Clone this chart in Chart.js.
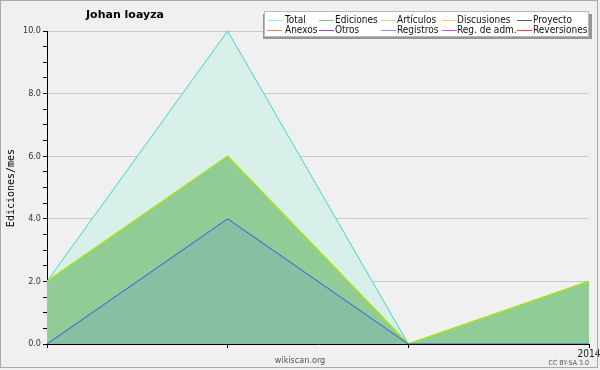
<!DOCTYPE html>
<html>
<head>
<meta charset="utf-8">
<script src="https://cdn.jsdelivr.net/npm/chart.js@4.4.1/dist/chart.umd.min.js"></script>
<style>
  html, body { margin: 0; padding: 0; background: #f0f0f0; }
  canvas { display: block; }
</style>
</head>
<body>
<canvas id="chart" width="600" height="370"></canvas>
<script>
// monthly points, only the January one carries a label
const months = ['2013-10', '2013-11', '2013-12', '2014-01'];
const xTickLabels = ['', '', '', '2014'];

const total = [2, 10, 0, 2];
const ediciones = [2, 6, 0, 2];
const articulos = [2, 6, 0, 2];
const registros = [0, 4, 0, 0];

const legendRow1 = ['Total', 'Ediciones', 'Artículos', 'Discusiones', 'Proyecto'];
const legendRow2 = ['Anexos', 'Otros', 'Registros', 'Reg. de adm.', 'Reversiones'];

const legendColors1 = ['#a0e8e4', '#80c888', '#c4ec70', '#f2d068', '#606060'];
const legendColors2 = ['#f08848', '#8848d8', '#8090f0', '#d058e0', '#e84040'];

const FONT = '"DejaVu Sans Condensed", "DejaVu Sans", sans-serif';

const decor = {
    id: 'decor',
    beforeDraw(chart) {
        const c = chart.ctx;
        c.save();
        c.fillStyle = '#f0f0f0';
        c.fillRect(0, 0, chart.width, chart.height);
        c.restore();
    },
    afterDraw(chart) {
        const c = chart.ctx;
        c.save();

        // frame
        c.strokeStyle = '#a8a8a8';
        c.lineWidth = 1;
        c.strokeRect(0.5, 0.5, 597, 367);

        // title
        c.fillStyle = '#000';
        c.font = 'bold 11px "DejaVu Sans", sans-serif';
        c.textBaseline = 'alphabetic';
        c.textAlign = 'left';
        c.fillText('Johan loayza', 86, 18);

        // legend box with its shadow
        c.fillStyle = '#959595';
        c.fillRect(263, 14, 329, 25);
        c.fillStyle = '#fff';
        c.fillRect(264, 11, 325, 26);
        c.strokeStyle = '#b8b8b8';
        c.strokeRect(264.5, 11.5, 324, 25);

        const lineX = [267, 319, 381, 442, 517];
        const textX = [285, 335, 397, 457, 533];
        c.font = '10px ' + FONT;
        c.lineWidth = 1;
        [[legendRow1, legendColors1, 20.5, 23], [legendRow2, legendColors2, 30.5, 33]].forEach(([names, cols, ly, ty]) => {
            names.forEach((n, i) => {
                c.strokeStyle = cols[i];
                c.beginPath();
                c.moveTo(lineX[i], ly);
                c.lineTo(lineX[i] + 15, ly);
                c.stroke();
                c.fillStyle = '#111';
                c.fillText(n, textX[i], ty);
            });
        });

        // y axis title
        c.save();
        c.translate(14, 188);
        c.rotate(-Math.PI / 2);
        c.textAlign = 'center';
        c.fillStyle = '#000';
        c.font = '10px "DejaVu Sans Mono", monospace';
        c.fillText('Ediciones/mes', 0, 0);
        c.restore();

        // footer
        c.fillStyle = '#555';
        c.textAlign = 'center';
        c.font = '9px ' + FONT;
        c.fillText('wikiscan.org', 300, 363);
        c.textAlign = 'right';
        c.font = '7px ' + FONT;
        c.fillText('CC BY-SA 3.0', 589, 365);

        c.restore();
    }
};

new Chart(document.getElementById('chart'), {
    type: 'line',
    data: {
        labels: months,
        datasets: [
            { label: 'Registros', data: registros, borderColor: '#3a52ee', backgroundColor: '#86bfa1', fill: 'origin', order: 0 },
            { label: 'Artículos', data: articulos, borderColor: '#a4e41c', borderWidth: 1.6, fill: false, order: 1 },
            { label: 'Ediciones', data: ediciones, borderColor: '#8fcb93', backgroundColor: '#91cb95', fill: 'origin', order: 2 },
            { label: 'Total', data: total, borderColor: '#3fd6cc', backgroundColor: '#d9f0ea', fill: 'origin', order: 3 }
        ]
    },
    options: {
        responsive: false,
        animation: false,
        devicePixelRatio: 1,
        layout: { padding: { left: 0, top: 31, right: 11, bottom: 0 } },
        elements: {
            point: { radius: 0 },
            line: { borderWidth: 1, tension: 0 }
        },
        plugins: {
            legend: { display: false },
            title: { display: false },
            tooltip: { enabled: false }
        },
        scales: {
            x: {
                type: 'category',
                offset: false,
                grid: { drawOnChartArea: false, color: '#000', tickLength: 4 },
                border: { color: '#000', width: 1 },
                ticks: {
                    autoSkip: false,
                    maxRotation: 0,
                    padding: 0,
                    color: '#222',
                    font: { family: FONT, size: 10 },
                    callback: (v, i) => xTickLabels[i]
                },
                afterFit(s) { s.height = 26; s.paddingLeft = 0; s.paddingRight = 0; }
            },
            y: {
                min: 0,
                max: 10,
                grid: {
                    color: ctx => (ctx.tick && ctx.tick.value % 2 === 0) ? '#c8c8c8' : 'rgba(0,0,0,0)',
                    tickColor: '#000',
                    tickLength: 4
                },
                border: { color: '#000', width: 1 },
                ticks: {
                    stepSize: 0.5,
                    autoSkip: false,
                    padding: 2,
                    color: '#333',
                    font: { family: FONT, size: 9 },
                    callback: v => v % 2 === 0 ? v.toFixed(1) : ''
                },
                afterFit(s) { s.width = 47; s.paddingTop = 0; s.paddingBottom = 0; }
            }
        }
    },
    plugins: [decor]
});
</script>
</body>
</html>
